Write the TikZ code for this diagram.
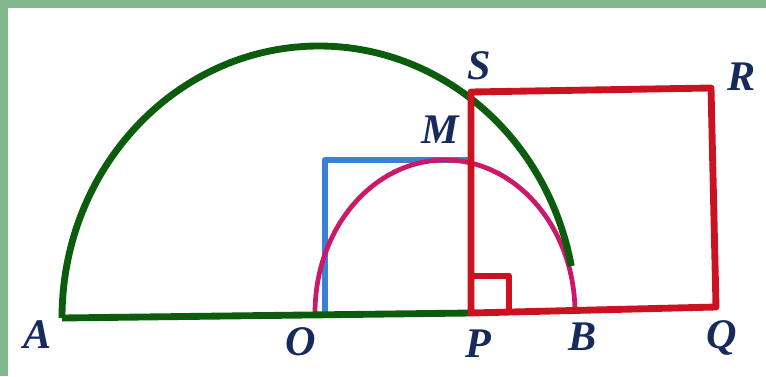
\documentclass[tikz,border=0pt]{standalone}
\usepackage{fontspec}
\setmainfont{Liberation Serif}
\usepackage{xcolor}
\usepackage{tikz}
\definecolor{frame}{RGB}{128,184,140}
\definecolor{arcgreen}{RGB}{12,92,14}
\definecolor{sqred}{RGB}{204,18,32}
\definecolor{sqblue}{RGB}{58,128,212}
\definecolor{arcpink}{RGB}{204,24,104}
\definecolor{labnavy}{RGB}{22,42,92}

\begin{document}
\begin{tikzpicture}[x=0.02cm, y=0.02cm,
    lbl/.style={text=labnavy, inner sep=0pt, text depth=0pt,
      font=\fontsize{24}{28}\selectfont\bfseries\itshape},
    fat/.style={line width=3.9pt, line join=round}]
  % okvir
  \useasboundingbox (0,0) rectangle (766,376);
  \fill[frame] (0,0) rectangle (766,376);
  \fill[white] (8,0) rectangle (766,368);

  % tocke
  \coordinate (a) at (62,58);
  \coordinate (o) at (325,60);
  \coordinate (p) at (471,63);
  \coordinate (b) at (575,65);
  \coordinate (q) at (716,69);
  \coordinate (r) at (711,288);
  \coordinate (s) at (471,284);
  \coordinate (m) at (471,216);
  \coordinate (c) at (325,216);
  \coordinate (k) at (315,63);

  % kvadrat nad OP
  \draw[sqblue, fat] (o) -- (c) -- (m);
  % mala polukruznica
  \draw[arcpink, line width=2.7pt] (k)
    arc[start angle=180, end angle=0, x radius=130, y radius=153];
  % velika polukruznica i promjer
  \draw[arcgreen, fat] (a)
    arc[start angle=180, end angle=11, x radius=257, y radius=272];
  \draw[arcgreen, fat] (a) -- (p);
  % kvadrat PQRS
  \draw[sqred, fat] (p) -- (s) -- (r) -- (q) -- cycle;
  \draw[sqred, fat] (p) -- ++(0,37) -- ++(38,0) -- ++(0,-35);

  % oznake
  \node[lbl] (A) at (38,41)  {A};
  \node[lbl] (O) at (301,34) {O};
  \node[lbl] (P) at (478,32) {P};
  \node[lbl] (B) at (583,39) {B};
  \node[lbl] (Q) at (722,41) {Q};
  \node[lbl] (R) at (742,299) {R};
  \node[lbl] (S) at (479,310) {S};
  \node[lbl] (M) at (440,246) {M};
\end{tikzpicture}
\end{document}
